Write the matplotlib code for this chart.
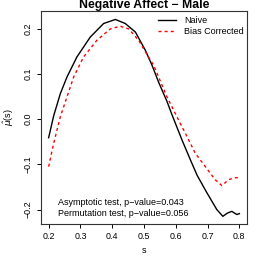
import matplotlib
matplotlib.use("Agg")
import matplotlib.pyplot as plt

# Data
naive_s = [0.200, 0.216, 0.237, 0.258, 0.289, 0.331, 0.373, 0.410, 0.441, 0.473,
           0.504, 0.525, 0.546, 0.572, 0.588, 0.619, 0.646, 0.667, 0.698, 0.729,
           0.748, 0.762, 0.776, 0.792, 0.800]
naive_mu = [-0.041, 0.008, 0.057, 0.094, 0.138, 0.182, 0.212, 0.221, 0.212, 0.193,
            0.153, 0.120, 0.082, 0.040, 0.010, -0.045, -0.090, -0.124, -0.163, -0.200,
            -0.215, -0.208, -0.204, -0.211, -0.209]

bc_s = [0.200, 0.216, 0.237, 0.258, 0.279, 0.310, 0.352, 0.394, 0.425, 0.452,
        0.483, 0.514, 0.530, 0.572, 0.609, 0.635, 0.661, 0.693, 0.724, 0.745,
        0.766, 0.782, 0.800]
bc_mu = [-0.105, -0.053, 0.006, 0.050, 0.094, 0.138, 0.175, 0.200, 0.206, 0.200,
         0.175, 0.138, 0.120, 0.050, -0.002, -0.038, -0.075, -0.105, -0.134, -0.147,
         -0.134, -0.130, -0.129]

x_ticks = [0.2, 0.3, 0.4, 0.5, 0.6, 0.7, 0.8]
y_ticks = [-0.2, -0.1, 0.0, 0.1, 0.2]
title = "Negative Affect \u2212 Male"
legend_labels = ["Naive", "Bias Corrected"]
notes = ["Asymptotic test, p\u2212value=0.043", "Permutation test, p\u2212value=0.056"]

plt.rcParams['font.family'] = ['Liberation Sans', 'DejaVu Sans']
plt.rcParams['axes.unicode_minus'] = True

fig = plt.figure(figsize=(2.58, 2.58), dpi=100)
ax = fig.add_axes([41/258, 34/258, 206/258, 213/258])

ax.plot(naive_s, naive_mu, color='black', lw=1.0, label=legend_labels[0])
ax.plot(bc_s, bc_mu, color='#ff0000', lw=1.0, ls=(0, (2.2, 2.2)), label=legend_labels[1])

ax.set_xlim(0.176, 0.824)
ax.set_ylim(-0.232, 0.2397)
ax.set_xticks(x_ticks)
ax.set_xticklabels([f"{v:.1f}" for v in x_ticks])
ax.set_yticks(y_ticks)
ax.set_yticklabels([f"{v:.1f}".replace('-', '\u2212') for v in y_ticks], rotation=90, va='center')
ax.tick_params(axis='both', length=3, width=0.7, labelsize=6.4, direction='out')
ax.tick_params(axis='x', pad=2.5)
ax.tick_params(axis='y', pad=3)
for sp in ax.spines.values():
    sp.set_linewidth(0.8)
    sp.set_color('#333333')

ax.set_title(title, fontsize=8.8, fontweight='bold', pad=1)
ax.set_xlabel("s", fontsize=6.5)
ax.set_ylabel(r"$\hat{\mu}$(s)", fontsize=6.5)
ax.xaxis.set_label_coords(0.5, -0.103)
ax.yaxis.set_label_coords(-0.119, 0.5)

ax.legend(loc='upper right', bbox_to_anchor=(0.985, 0.975), frameon=False, fontsize=6.5,
          handlelength=2.0, handletextpad=0.9, labelspacing=0.2, borderpad=0, borderaxespad=0)

ax.text(0.228, -0.1837, notes[0], fontsize=6.5, va='center', ha='left')
ax.text(0.228, -0.208, notes[1], fontsize=6.5, va='center', ha='left')

fig.savefig("out.png", dpi=100)
